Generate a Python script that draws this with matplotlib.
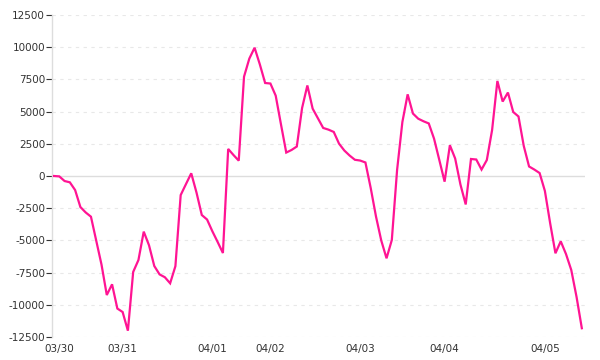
import matplotlib
matplotlib.use("Agg")
import matplotlib.pyplot as plt
import numpy as np

values = [0, -30, -390, -490, -1090, -2410, -2830, -3160, -5020, -6880,
          -9240, -8410, -10290, -10560, -12010, -7450, -6520, -4320, -5380, -6990,
          -7640, -7860, -8330, -7000, -1480, -630, 210, -1290, -3030, -3380,
          -4290, -5120, -5980, 2100, 1630, 1190, 7710, 9110, 9960, 8660,
          7220, 7180, 6240, 4010, 1820, 2020, 2290, 5280, 7030, 5230,
          4480, 3730, 3600, 3420, 2510, 1980, 1590, 1260, 1200, 1050,
          -930, -3140, -5010, -6390, -4970, 470, 4190, 6340, 4850, 4450,
          4250, 4080, 2900, 1240, -440, 2390, 1360, -660, -2210, 1320,
          1280, 500, 1240, 3570, 7380, 5780, 6480, 4970, 4620, 2330,
          740, 500, 230, -1160, -3670, -6000, -5070, -6060, -7300, -9390,
          -11820]
tick_labels = ["03/30", "03/31", "04/01", "04/02", "04/03", "04/04", "04/05"]
tick_index = [1, 13, 30, 41, 58, 74, 93]
y_ticks = [-12500, -10000, -7500, -5000, -2500, 0, 2500, 5000, 7500, 10000, 12500]

fig = plt.figure(figsize=(6, 3.6), dpi=100)
ax = fig.add_axes([52/600, 1-337/360, (585-52)/600, (337-15)/360])

x = np.arange(len(values))
for yv in y_ticks:
    if yv == 0:
        ax.axhline(0, color="#dddddd", lw=1.0, zorder=1)
    else:
        ax.axhline(yv, color="#e8e8e8", lw=0.8, ls=(0, (3, 4)), zorder=1)

ax.plot(x, values, color="#ff1493", lw=1.6, zorder=3, solid_joinstyle="miter")

ax.set_xlim(-0.38, len(values) - 1 + 0.6)
ax.set_ylim(-12500, 12500)
ax.set_yticks(y_ticks)
ax.set_yticklabels([str(v) for v in y_ticks])
ax.set_xticks(tick_index)
ax.set_xticklabels(tick_labels)

for s in ["top", "right", "bottom"]:
    ax.spines[s].set_visible(False)
ax.spines["left"].set_color("#dddddd")
ax.spines["left"].set_linewidth(1.0)

ax.tick_params(axis="y", length=4, width=0.8, color="#333333", labelsize=7.5,
               labelcolor="#333333", pad=1)
ax.tick_params(axis="x", length=0, labelsize=7.5, labelcolor="#333333", pad=5)

fig.savefig("out.png", dpi=100)
